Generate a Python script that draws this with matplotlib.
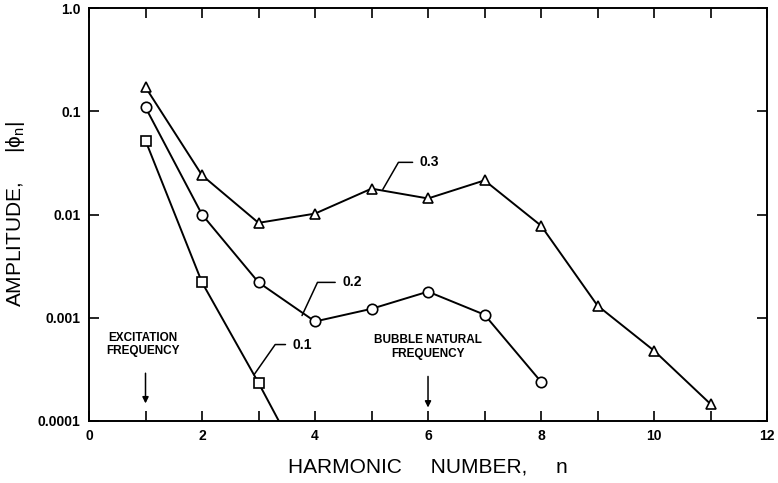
import matplotlib.pyplot as plt
from matplotlib.ticker import FixedLocator, NullLocator, NullFormatter

plt.rcParams['font.family'] = ['Liberation Sans', 'DejaVu Sans']

# harmonic numbers and amplitudes |phi_n| for three excitation amplitudes
n_01 = [1, 2, 3, 4]
amp_01 = [0.052, 0.0022, 0.000234, 0.000022]

n_02 = [1, 2, 3, 4, 5, 6, 7, 8]
amp_02 = [0.109, 0.0100, 0.0022, 0.00092, 0.00122, 0.00179, 0.00107, 0.00024]

n_03 = [1, 2, 3, 4, 5, 6, 7, 8, 9, 10, 11]
amp_03 = [0.171, 0.024, 0.0083, 0.0102, 0.0178, 0.0143, 0.0214, 0.0078,
          0.00131, 0.00048, 0.000146]

y_ticks = [0.0001, 0.001, 0.01, 0.1, 1.0]
y_tick_labels = ["0.0001", "0.001", "0.01", "0.1", "1.0"]
x_ticks = [0, 2, 4, 6, 8, 10, 12]

fig = plt.figure(figsize=(7.78, 4.83), dpi=100)
ax = fig.add_axes([0.1144, 0.1284, 0.8715, 0.855])

mk = dict(color="black", lw=1.4, mfc="white", mec="black", mew=1.2, ms=7.5)
ax.plot(n_01, amp_01, marker="s", **mk)
ax.plot(n_02, amp_02, marker="o", **mk)
ax.plot(n_03, amp_03, marker="^", **mk, clip_on=False)

ax.set_yscale("log")
ax.set_xlim(0, 12)
ax.set_ylim(0.0001, 1.0)
ax.yaxis.set_major_locator(FixedLocator(y_ticks))
ax.set_yticklabels(y_tick_labels)
ax.yaxis.set_minor_locator(NullLocator())
ax.yaxis.set_minor_formatter(NullFormatter())
ax.set_xticks(x_ticks)
ax.set_xticks(range(1, 12, 2), minor=True)

ax.tick_params(which="both", direction="in", top=True, right=True,
               length=7, width=1.2, labelsize=10, pad=6)
for lab in ax.get_xticklabels() + ax.get_yticklabels():
    lab.set_fontweight("bold")
for s in ax.spines.values():
    s.set_linewidth(1.4)

ax.set_xlabel("HARMONIC     NUMBER,     n", fontsize=15, labelpad=10)
ax.set_ylabel("AMPLITUDE,     |\u03d5$_\\mathregular{n}$|", fontsize=15, labelpad=8)

# curve labels with leader lines
lab_kw = dict(fontsize=10, fontweight="bold", va="center", ha="left")
ax.annotate("0.3", xy=(5.2, 0.0175), xytext=(5.85, 0.032),
            arrowprops=dict(arrowstyle="-", lw=1.1, color="black",
                            connectionstyle="angle,angleA=0,angleB=60,rad=0",
                            shrinkA=3, shrinkB=0), **lab_kw)
ax.annotate("0.2", xy=(3.77, 0.00105), xytext=(4.48, 0.0022),
            arrowprops=dict(arrowstyle="-", lw=1.1, color="black",
                            connectionstyle="angle,angleA=0,angleB=65,rad=0",
                            shrinkA=3, shrinkB=0), **lab_kw)
ax.annotate("0.1", xy=(2.92, 0.00028), xytext=(3.6, 0.00055),
            arrowprops=dict(arrowstyle="-", lw=1.1, color="black",
                            connectionstyle="angle,angleA=0,angleB=55,rad=0",
                            shrinkA=3, shrinkB=0), **lab_kw)

# frequency markers
note_kw = dict(fontsize=8.5, fontweight="bold", ha="center", va="center",
               linespacing=1.2)
ax.text(0.95, 0.00055, "EXCITATION\nFREQUENCY", **note_kw)
ax.annotate("", xy=(1, 0.000148), xytext=(1, 0.00029),
            arrowprops=dict(arrowstyle="-|>", lw=1.1, color="black",
                            mutation_scale=9, shrinkA=0, shrinkB=0))
ax.text(6, 0.00052, "BUBBLE NATURAL\nFREQUENCY", **note_kw)
ax.annotate("", xy=(6, 0.000135), xytext=(6, 0.00027),
            arrowprops=dict(arrowstyle="-|>", lw=1.1, color="black",
                            mutation_scale=9, shrinkA=0, shrinkB=0))

fig.savefig("out.png", dpi=100)
